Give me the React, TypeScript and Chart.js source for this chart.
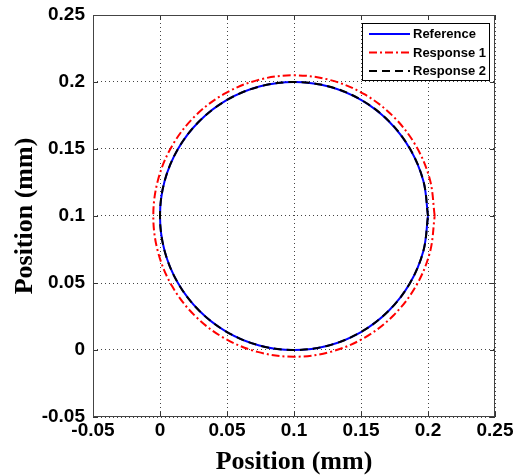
import React, { useEffect, useRef } from "react";
import { Chart, registerables } from "chart.js";

Chart.register(...registerables);

// Tick values (both axes)
const TICKS = [-0.05, 0, 0.05, 0.1, 0.15, 0.2, 0.25];

// Reference trajectory
const REF_X = [0.2, 0.1966, 0.1866, 0.1707, 0.15, 0.1259, 0.1, 0.0741, 0.05, 0.0293, 0.0134, 0.0034, 0, 0.0034, 0.0134, 0.0293, 0.05, 0.0741, 0.1, 0.1259, 0.15, 0.1707, 0.1866, 0.1966, 0.2];
const REF_Y = [0.1, 0.1259, 0.15, 0.1707, 0.1866, 0.1966, 0.2, 0.1966, 0.1866, 0.1707, 0.15, 0.1259, 0.1, 0.0741, 0.05, 0.0293, 0.0134, 0.0034, 0, 0.0034, 0.0134, 0.0293, 0.05, 0.0741, 0.1];

// Response 1 trajectory
const R1_X = [0.205, 0.2014, 0.1909, 0.1742, 0.1525, 0.1272, 0.1, 0.0728, 0.0475, 0.0258, 0.0091, -0.0014, -0.005, -0.0014, 0.0091, 0.0258, 0.0475, 0.0728, 0.1, 0.1272, 0.1525, 0.1742, 0.1909, 0.2014, 0.205];
const R1_Y = [0.1, 0.1272, 0.1525, 0.1742, 0.1909, 0.2014, 0.205, 0.2014, 0.1909, 0.1742, 0.1525, 0.1272, 0.1, 0.0728, 0.0475, 0.0258, 0.0091, -0.0014, -0.005, -0.0014, 0.0091, 0.0258, 0.0475, 0.0728, 0.1];

// Response 2 trajectory
const R2_X = [0.2, 0.1966, 0.1866, 0.1708, 0.1501, 0.126, 0.1, 0.0741, 0.05, 0.0293, 0.0134, 0.0034, 0, 0.0034, 0.0134, 0.0293, 0.05, 0.0741, 0.1, 0.1259, 0.15, 0.1707, 0.1866, 0.1966, 0.2];
const R2_Y = [0.1, 0.1259, 0.1501, 0.1708, 0.1867, 0.1967, 0.2, 0.1966, 0.1866, 0.1707, 0.15, 0.1259, 0.1, 0.0741, 0.05, 0.0293, 0.0134, 0.0034, 0, 0.0034, 0.0134, 0.0293, 0.05, 0.0741, 0.1];

const LABELS = ["Reference", "Response 1", "Response 2"];

const toPts = (xs: number[], ys: number[]) => xs.map((x, i) => ({ x, y: ys[i] }));
const fmt = (v: number) => String(Number(v.toFixed(2)));

const framePlugin = {
  id: "frame",
  afterDraw(chart: any) {
    const { ctx, chartArea: a, scales } = chart;
    ctx.save();
    // ticks on all four sides
    ctx.strokeStyle = "#333";
    ctx.lineWidth = 1;
    ctx.setLineDash([]);
    const tl = 5;
    ctx.beginPath();
    TICKS.forEach((t) => {
      const px = Math.round(scales.x.getPixelForValue(t)) + 0.5;
      ctx.moveTo(px, a.bottom);
      ctx.lineTo(px, a.bottom - tl);
      ctx.moveTo(px, a.top);
      ctx.lineTo(px, a.top + tl);
      const py = Math.round(scales.y.getPixelForValue(t)) + 0.5;
      ctx.moveTo(a.left, py);
      ctx.lineTo(a.left + tl, py);
      ctx.moveTo(a.right, py);
      ctx.lineTo(a.right - tl, py);
    });
    ctx.stroke();
    // axes box
    ctx.strokeStyle = "#444";
    ctx.strokeRect(a.left + 0.5, a.top + 0.5, a.right - a.left - 1, a.bottom - a.top - 1);

    // legend
    const lx = 362, ly = 23, lw = 128, lh = 58;
    ctx.fillStyle = "#fff";
    ctx.fillRect(lx, ly, lw, lh);
    ctx.strokeStyle = "#000";
    ctx.lineWidth = 1;
    ctx.strokeRect(lx + 0.5, ly + 0.5, lw - 1, lh - 1);
    const rows = [34, 52.5, 71];
    chart.data.datasets.forEach((ds: any, i: number) => {
      const y = rows[i];
      ctx.strokeStyle = ds.borderColor;
      ctx.lineWidth = ds.borderWidth;
      ctx.setLineDash(ds.borderDash || []);
      ctx.beginPath();
      ctx.moveTo(369, y);
      ctx.lineTo(410, y);
      ctx.stroke();
      ctx.setLineDash([]);
      ctx.fillStyle = "#000";
      ctx.font = "bold 13px 'Liberation Sans', Arial, sans-serif";
      ctx.textBaseline = "middle";
      ctx.textAlign = "left";
      ctx.fillText(ds.label, 413, y + 0.5);
    });
    ctx.restore();
  },
};

export default function App() {
  const ref = useRef<HTMLCanvasElement | null>(null);
  useEffect(() => {
    document.body.style.margin = "0";
    const canvas = ref.current;
    if (!canvas) return;
    const tickFont = { family: "'Liberation Sans', Arial, sans-serif", size: 19, weight: "bold" as const };
    const titleFont = { family: "'Liberation Serif', 'Times New Roman', serif", size: 26, weight: "bold" as const, lineHeight: 1 };
    const grid = { color: "#444", lineWidth: 1, drawTicks: false };
    const border = { display: false, dash: [1, 3] };
    const chart = new Chart(canvas, {
      type: "scatter",
      data: {
        datasets: [
          {
            label: LABELS[0],
            data: toPts(REF_X, REF_Y),
            showLine: true,
            borderColor: "#0000ff",
            borderWidth: 2,
            pointRadius: 0,
            tension: 0.35,
            order: 3,
          },
          {
            label: LABELS[1],
            data: toPts(R1_X, R1_Y),
            showLine: true,
            borderColor: "#ff0000",
            borderWidth: 2,
            borderDash: [8, 3, 2, 3],
            pointRadius: 0,
            tension: 0.35,
            order: 2,
          },
          {
            label: LABELS[2],
            data: toPts(R2_X, R2_Y),
            showLine: true,
            borderColor: "#000000",
            borderWidth: 2,
            borderDash: [8, 5],
            pointRadius: 0,
            tension: 0.35,
            order: 1,
          },
        ],
      },
      options: {
        animation: false,
        responsive: false,
        layout: { padding: { left: 0, right: 20, top: 15, bottom: 0 } },
        plugins: { legend: { display: false }, tooltip: { enabled: false } },
        scales: {
          x: {
            type: "linear",
            min: -0.05,
            max: 0.25,
            grid,
            border,
            afterBuildTicks: (s: any) => {
              s.ticks = TICKS.map((v) => ({ value: v }));
            },
            afterFit: (s: any) => {
              s.height = 58;
              s.paddingLeft = 0;
              s.paddingRight = 0;
            },
            ticks: { font: tickFont, color: "#000", padding: 2, maxRotation: 0, autoSkip: false, callback: (v: any) => fmt(Number(v)) },
            title: { display: true, text: "Position (mm)", font: titleFont, color: "#000", padding: { top: 0, bottom: 0 } },
          },
          y: {
            type: "linear",
            min: -0.05,
            max: 0.25,
            grid,
            border,
            afterBuildTicks: (s: any) => {
              s.ticks = TICKS.map((v) => ({ value: v }));
            },
            afterFit: (s: any) => {
              s.width = 93;
              s.paddingTop = 0;
              s.paddingBottom = 0;
            },
            ticks: { font: tickFont, color: "#000", padding: 8, autoSkip: false, callback: (v: any) => fmt(Number(v)) },
            title: { display: true, text: "Position (mm)", font: titleFont, color: "#000", padding: { top: 12, bottom: 0 } },
          },
        },
      },
      plugins: [framePlugin],
    } as any);
    return () => chart.destroy();
  }, []);
  return (
    <div style={{ position: "absolute", left: 0, top: 0, width: 515, height: 475, background: "#fff" }}>
      <canvas ref={ref} width={515} height={475} />
    </div>
  );
}
